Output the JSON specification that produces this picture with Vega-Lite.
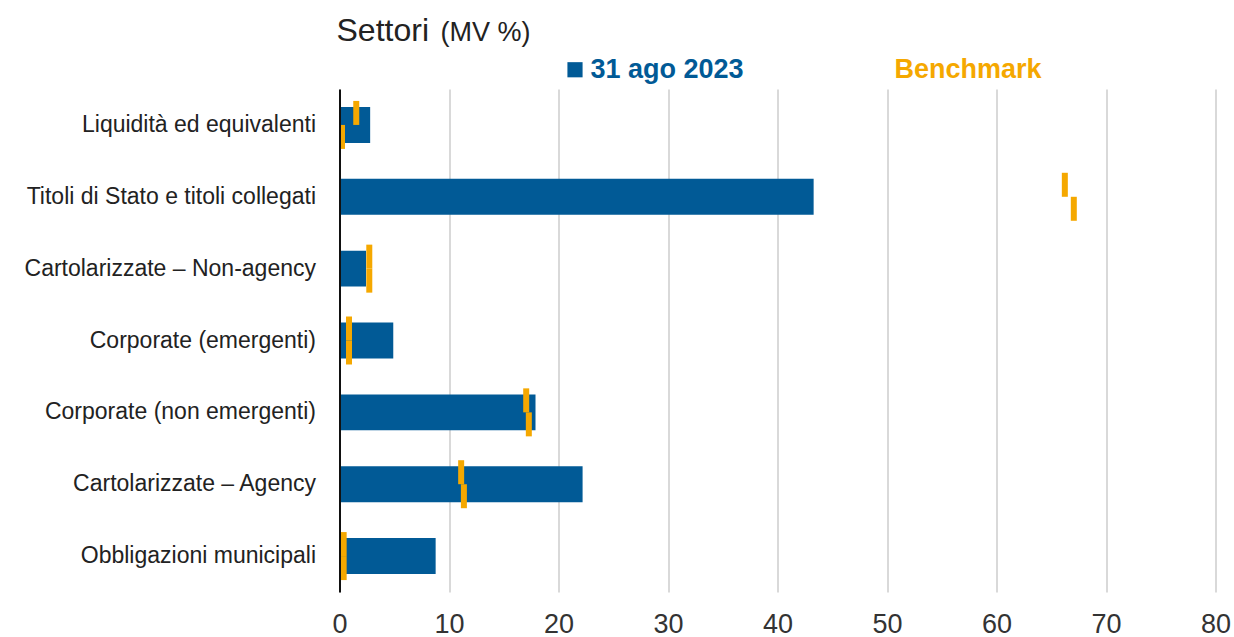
{
  "$schema": "https://vega.github.io/schema/vega-lite/v6.json",
  "autosize": "none",
  "width": 876,
  "height": 503,
  "padding": {"left": 339.5, "top": 89, "right": 18.5, "bottom": 45},
  "background": "white",
  "config": {"view": {"stroke": null}},
  "data": {"values": [
    {"settore": "Liquidità ed equivalenti", "valore": 2.8, "bench_a": 1.53, "bench_b": 0.23},
    {"settore": "Titoli di Stato e titoli collegati", "valore": 43.3, "bench_a": 66.24, "bench_b": 67.06},
    {"settore": "Cartolarizzate – Non-agency", "valore": 2.42, "bench_a": 2.72, "bench_b": 2.72},
    {"settore": "Corporate (emergenti)", "valore": 4.91, "bench_a": 0.87, "bench_b": 0.87},
    {"settore": "Corporate (non emergenti)", "valore": 17.9, "bench_a": 17.05, "bench_b": 17.29},
    {"settore": "Cartolarizzate – Agency", "valore": 22.2, "bench_a": 11.11, "bench_b": 11.36},
    {"settore": "Obbligazioni municipali", "valore": 8.78, "bench_a": 0.38, "bench_b": 0.38}
  ]},
  "encoding": {
    "y": {
      "field": "settore", "type": "nominal", "sort": null,
      "scale": {"paddingInner": 0.5, "paddingOuter": 0.25},
      "axis": {
        "title": "Settori", "titleAngle": 0, "titleX": -3.5, "titleY": -49,
        "titleAlign": "left", "titleBaseline": "alphabetic",
        "titleFont": "Liberation Sans", "titleFontSize": 32, "titleFontWeight": "normal", "titleColor": "#222222",
        "labelFont": "Liberation Sans", "labelFontSize": 23, "labelColor": "#222222",
        "labelPadding": 24, "ticks": false, "domain": true, "domainColor": "#111111", "domainWidth": 2,
        "grid": false, "zindex": 1, "labelLimit": 400
      }
    }
  },
  "layer": [
    {
      "mark": {"type": "bar"},
      "encoding": {
        "x": {
          "field": "valore", "type": "quantitative",
          "scale": {"domain": [0, 80], "nice": false},
          "axis": {
            "values": [0, 10, 20, 30, 40, 50, 60, 70, 80],
            "title": "(MV %)", "titleX": 100.5, "titleY": -552, "titleAlign": "left", "titleBaseline": "alphabetic", "titleAngle": 0,
            "titleFont": "Liberation Sans", "titleFontSize": 27, "titleFontWeight": "normal", "titleColor": "#222222",
            "labelFont": "Liberation Sans", "labelFontSize": 27, "labelColor": "#333333",
            "labelPadding": 19, "ticks": false, "domain": false,
            "grid": true, "gridColor": "#cccccc", "gridWidth": 1.5, "zindex": 0, "labelFlush": false
          }
        },
        "color": {
          "datum": "31 ago 2023",
          "scale": {"domain": ["31 ago 2023", "Benchmark"], "range": ["#015a96", "#f5a800"]},
          "legend": {
            "title": null, "orient": "none", "legendX": 222, "legendY": -33,
            "direction": "horizontal", "symbolType": "square", "symbolSize": 230,
            "symbolStrokeWidth": 0, "labelFont": "Liberation Sans", "labelFontSize": 27, "labelFontWeight": "bold",
            "labelOffset": 2, "columnPadding": 121, "labelLimit": 400,
            "encode": {
              "labels": {"update": {"fill": {"scale": "color", "field": "value"}}},
              "symbols": {"update": {"opacity": {"signal": "datum.value === 'Benchmark' ? 0 : 1"}, "fill": {"scale": "color", "field": "value"}}}
            }
          }
        }
      }
    },
    {
      "mark": {"type": "tick", "size": 24, "thickness": 6, "yOffset": -12, "opacity": 1},
      "encoding": {
        "x": {"field": "bench_a", "type": "quantitative"},
        "color": {"datum": "Benchmark"}
      }
    },
    {
      "mark": {"type": "tick", "size": 24, "thickness": 6, "yOffset": 12, "opacity": 1},
      "encoding": {
        "x": {"field": "bench_b", "type": "quantitative"},
        "color": {"datum": "Benchmark"}
      }
    }
  ],
  "resolve": {"scale": {"color": "shared"}}
}
